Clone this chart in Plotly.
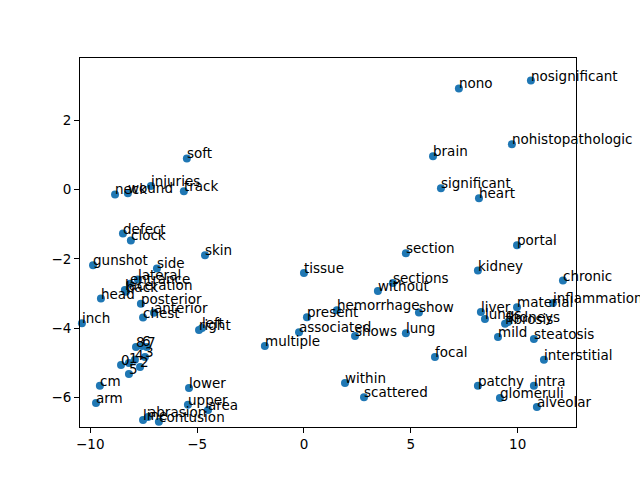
import plotly.graph_objects as go

# word embedding 2-D projection, labels and coordinates
words = [
    "nono", "nosignificant", "nohistopathologic", "brain", "significant", "heart",
    "section", "portal", "kidney", "chronic", "tissue", "sections", "without",
    "hemorrhage", "show", "present", "associated", "multiple", "shows", "lung",
    "focal", "within", "scattered", "patchy", "glomeruli", "intra", "alveolar",
    "interstitial", "steatosis", "mild", "liver", "lungs", "fibrosis", "kidneys",
    "material", "inflammation", "soft", "injuries", "track", "neck", "wound",
    "defect", "clock", "skin", "gunshot", "side", "lateral", "entrance",
    "laceration", "back", "head", "posterior", "anterior", "chest", "inch",
    "left", "right", "8", "6", "7", "4", "3", "1", "0", "2", "5", "cm", "arm",
    "lower", "upper", "area", "line", "abrasion", "contusion",
]
x_vals = [
    7.25, 10.62, 9.73, 6.04, 6.41, 8.19,
    4.77, 9.97, 8.14, 12.12, 0.00, 4.16, 3.46,
    1.54, 5.38, 0.14, -0.23, -1.83, 2.39, 4.77,
    6.13, 1.92, 2.81, 8.14, 9.17, 10.76, 10.90,
    11.23, 10.76, 9.08, 8.28, 8.47, 9.41, 9.55,
    9.97, 11.65, -5.48, -7.16, -5.62, -8.84, -8.24,
    -8.47, -8.10, -4.63, -9.87, -6.88, -7.77, -8.14,
    -8.38, -8.33, -9.50, -7.63, -7.02, -7.53, -10.39,
    -4.77, -4.91, -7.86, -7.58, -7.35, -7.91, -7.44, -8.19, -8.56, -7.67, -8.19, -9.55, -9.73,
    -5.38, -5.43, -4.49, -7.53, -7.30, -6.79,
]
y_vals = [
    2.92, 3.15, 1.31, 0.96, 0.04, -0.25,
    -1.84, -1.61, -2.34, -2.63, -2.41, -2.70, -2.93,
    -3.49, -3.55, -3.69, -4.12, -4.52, -4.23, -4.15,
    -4.84, -5.59, -6.00, -5.67, -6.02, -5.67, -6.28,
    -4.92, -4.32, -4.26, -3.54, -3.74, -3.88, -3.83,
    -3.40, -3.28, 0.90, 0.10, -0.05, -0.14, -0.11,
    -1.27, -1.47, -1.90, -2.19, -2.28, -2.60, -2.72,
    -2.90, -2.95, -3.15, -3.30, -3.56, -3.70, -3.86,
    -4.00, -4.06, -4.55, -4.52, -4.55, -4.92, -4.84, -5.01, -5.07, -5.13, -5.33, -5.67, -6.17,
    -5.73, -6.22, -6.37, -6.66, -6.57, -6.71,
]
x_ticks = [-10, -5, 0, 5, 10]
y_ticks = [2, 0, -2, -4, -6]

fig = go.Figure()
fig.add_trace(go.Scatter(
    x=x_vals,
    y=y_vals,
    mode="markers",
    marker=dict(size=8, color="#1f77b4"),
    showlegend=False,
    cliponaxis=False,
))

# matplotlib-style labels: text starts at the point, baseline on it
for w, xv, yv in zip(words, x_vals, y_vals):
    fig.add_annotation(
        x=xv, y=yv, text=w, showarrow=False,
        xanchor="left", yanchor="bottom",
        xshift=-2, yshift=-5,
        font=dict(family="DejaVu Sans", size=13.5, color="black"),
    )

axis_common = dict(
    showline=True, linecolor="black", linewidth=1, mirror=True,
    ticks="outside", ticklen=5, tickcolor="black",
    showgrid=False, zeroline=False,
    tickfont=dict(family="DejaVu Sans", size=13.5, color="black"),
)
fig.update_layout(
    width=640, height=480,
    margin=dict(l=80, r=64, t=58, b=53),
    paper_bgcolor="white", plot_bgcolor="white",
    xaxis=dict(range=[-10.48, 12.73], tickvals=x_ticks, **axis_common),
    yaxis=dict(range=[-6.86, 3.80], tickvals=y_ticks, **axis_common),
)

fig.write_html(
    "out.html",
    config={"displayModeBar": False},
    post_script="document.body.style.margin='0';",
)
